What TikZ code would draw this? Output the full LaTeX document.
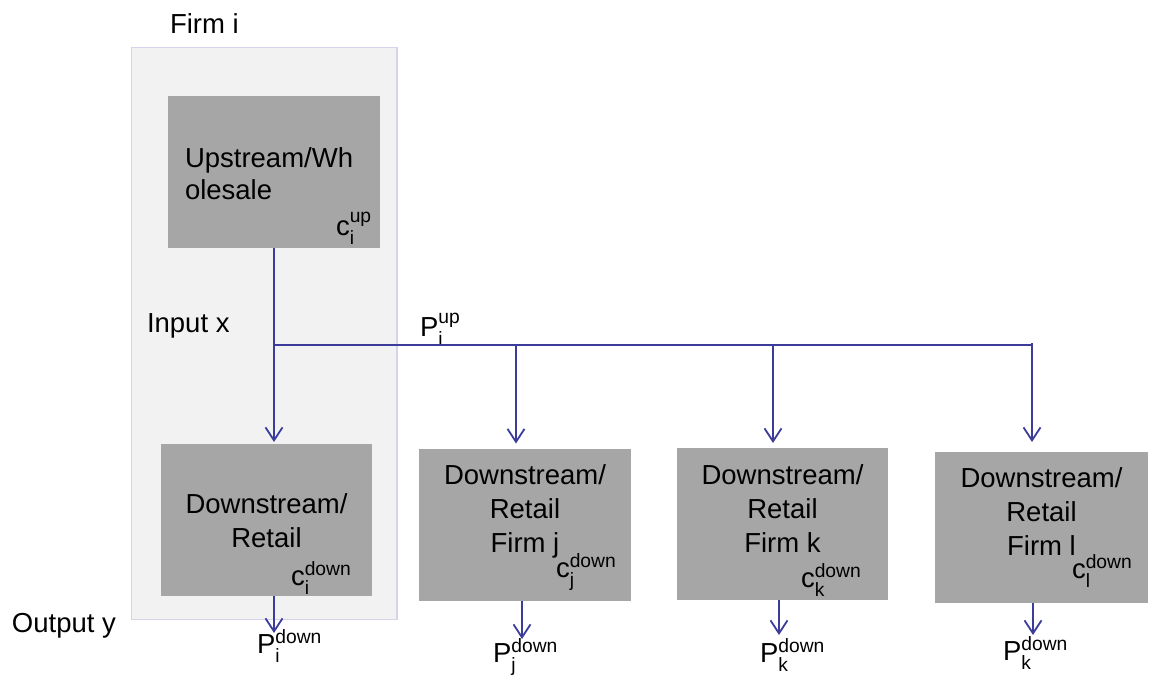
\documentclass[tikz,border=0pt]{standalone}
\usepackage{fontspec}
\setmainfont{Liberation Sans}
\usepackage{amsmath}
\usetikzlibrary{arrows.meta}
\definecolor{conn}{RGB}{60,60,155}
\definecolor{boxgray}{RGB}{166,166,166}
\definecolor{framefill}{RGB}{242,242,242}
\definecolor{framedraw}{RGB}{212,212,236}
\newcommand{\ssub}[3]{#1$_{\text{#2}}^{\text{#3}}$}
\begin{document}
\begin{tikzpicture}[x=1pt,y=-1pt,
  every node/.style={font=\fontsize{27.5}{34}\selectfont, inner sep=0pt, outer sep=0pt, text=black},
  frame/.style={draw=framedraw, fill=framefill, line width=1.5pt, minimum width=265.5pt, minimum height=572pt, anchor=north west},
  unit/.style={fill=boxgray, minimum width=212pt, minimum height=152pt},
  link/.style={draw=conn, line width=1.8pt},
  flow/.style={draw=conn, line width=1.8pt, -{Straight Barb[length=13pt,width=17pt]}},
]
\useasboundingbox (0,0) rectangle (1149,675);
% firm i frame
\node[frame] (firmi) at (131.5,47.5) {};
\node[anchor=base west] (firmlbl) at (170,33) {Firm i};
% boxes
\node[unit, minimum width=212pt, minimum height=152pt] (up) at (273.5,172) {};
\node[anchor=base west, align=left, font=\fontsize{27.5}{32}\selectfont] (uptxt) at (185,199) {Upstream/Wh\\olesale};
\node[anchor=base west] (cup) at (336,235) {\ssub{c}{i}{up}};

\node[unit, minimum width=211pt] (di) at (266.5,520) {};
\node[anchor=base, align=center] (ditxt) at (266.5,547) {Downstream/\\Retail};
\node[anchor=base west] (cdi) at (291,585) {\ssub{c}{i}{down}};

\node[unit] (dj) at (525,524.5) {};
\node[anchor=base, align=center] (djtxt) at (525,552) {Downstream/\\Retail\\Firm j};
\node[anchor=base west] (cdj) at (556,577) {\ssub{c}{j}{down}};

\node[unit, minimum width=211pt] (dk) at (782.5,524) {};
\node[anchor=base, align=center] (dktxt) at (782.5,552) {Downstream/\\Retail\\Firm k};
\node[anchor=base west] (cdk) at (801,587) {\ssub{c}{k}{down}};

\node[unit, minimum width=213pt, minimum height=151pt] (dl) at (1041.5,527.5) {};
\node[anchor=base, align=center] (dltxt) at (1041.5,555) {Downstream/\\Retail\\Firm l};
\node[anchor=base west] (cdl) at (1072,578) {\ssub{c}{l}{down}};

% labels
\node[anchor=base west] (inx) at (147,332) {Input x};
\node[anchor=base west] (piup) at (420,336) {\ssub{P}{i}{up}};
\node[anchor=base west] (outy) at (12,632) {Output y};
\node[anchor=base west] (pid) at (257,653) {\ssub{P}{i}{down}};
\node[anchor=base west] (pjd) at (493,662) {\ssub{P}{j}{down}};
\node[anchor=base west] (pkd) at (760,662) {\ssub{P}{k}{down}};
\node[anchor=base west] (pld) at (1003,660) {\ssub{P}{k}{down}};

% connectors
\coordinate (jn) at (274,345);
\coordinate (bj) at (516,345);
\coordinate (bk) at (773,345);
\coordinate (bl) at (1032,345);
\draw[link] (jn) -- (bl);
\draw[flow, shorten >=2pt] (up.south -| jn) -- (di.north -| jn);
\draw[flow, shorten >=5pt] (bj) -- (bj |- dj.north);
\draw[flow, shorten >=5pt] (bk) -- (bk |- dk.north);
\draw[flow, shorten >=10pt] ([yshift=2pt]bl) -- (bl |- dl.north);

\coordinate (oi) at (274,633);
\coordinate (oj) at (522,639);
\coordinate (ok) at (779,635);
\coordinate (ol) at (1033,635);
\draw[flow] (di.south -| oi) -- (oi);
\draw[flow] (dj.south -| oj) -- (oj);
\draw[flow] (dk.south -| ok) -- (ok);
\draw[flow] (dl.south -| ol) -- (ol);
\end{tikzpicture}
\end{document}
